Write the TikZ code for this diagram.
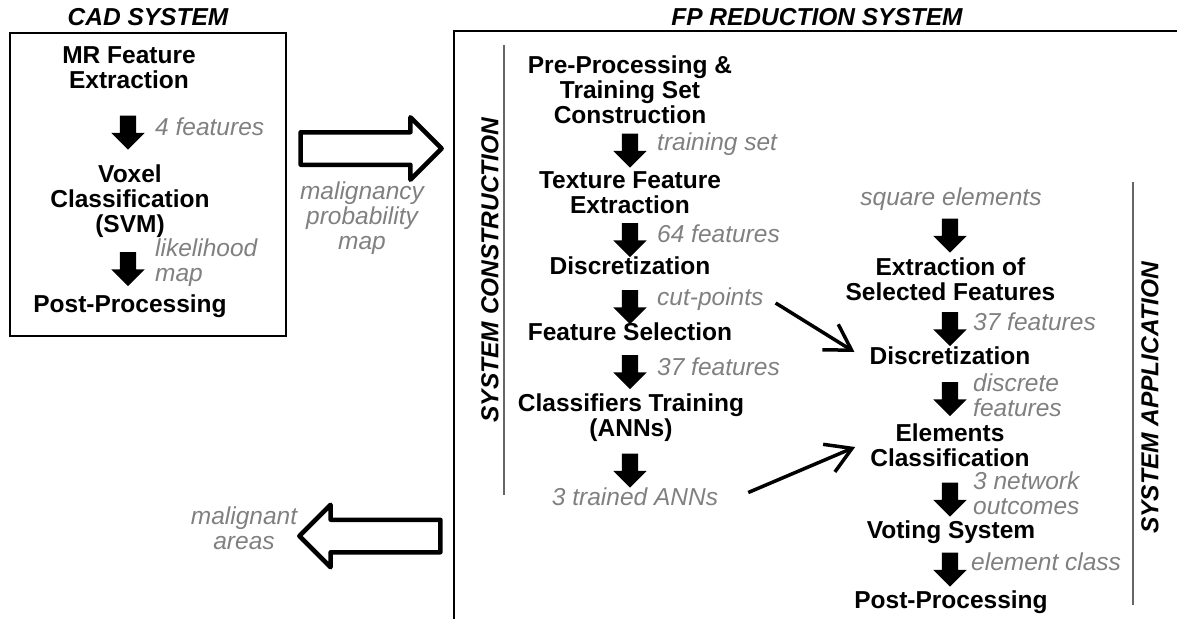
\documentclass[tikz,border=0pt]{standalone}
\usepackage{fontspec}
\setmainfont{Liberation Sans}
\usetikzlibrary{shapes.arrows,arrows.meta}
\definecolor{lblgray}{gray}{0.5}

\begin{document}
\begin{tikzpicture}[x=1pt, y=-1pt,
  proc/.style={font=\bfseries\fontsize{24.5}{25}\selectfont, align=center, inner sep=0pt},
  lbl/.style={font=\itshape\fontsize{24.5}{25}\selectfont, text=lblgray, align=left, anchor=west, inner sep=0pt},
  ttl/.style={font=\bfseries\itshape\fontsize{24.5}{25}\selectfont, inner sep=0pt},
  flowarr/.style={single arrow, fill=black, rotate=-90, minimum height=34pt, inner xsep=0pt, inner ysep=8pt,
    single arrow head extend=8.5pt, single arrow head indent=0pt},
  bigarrow/.style={single arrow, draw, fill=white, line width=4.5pt, line join=round,
    minimum height=141pt, inner xsep=0pt, inner ysep=14pt, single arrow head extend=15pt},
  feed/.style={line width=3.5pt, -{Straight Barb[length=25pt,width=30pt]}},
  divider/.style={line width=2pt, black!60}]
  \useasboundingbox (0,0) rectangle (1177,619);

  \node [ttl] (cadttl) at (148,17) {CAD SYSTEM};
  \node [ttl] (fpttl) at (817,17) {FP REDUCTION SYSTEM};

  % CAD system
  \draw [line width=2pt] (10,33) rectangle (286,336);
  \node [proc] (mr) at (129,68) {MR Feature\\Extraction};
  \node [flowarr] (a1) at (128,128.5) {};
  \node [lbl] (l1) at (155,127) {4 features};
  \node [proc] (voxel) at (130,201) {Voxel\\Classification\\(SVM)};
  \node [flowarr] (a2) at (128,265) {};
  \node [lbl] (l2) at (155,263) {likelihood\\map};
  \node [proc] (post1) at (130,306) {Post-Processing};

  % hand over to FP reduction and back (center sits 7pt towards the tip)
  \node [bigarrow] (tofp) at (363,148.5) {};
  \node [lbl, anchor=center, align=center] (prob) at (362,218) {malignancy\\probability\\map};
  \node [bigarrow, shape border rotate=180] (back) at (378,536) {};
  \node [lbl, anchor=center, align=center] (areas) at (244,528) {malignant\\areas};

  % FP reduction frame, runs off the page
  \draw [line width=2.5pt] (454,619) |- (1177,31);
  \draw [divider] (504,45) -- (504,495);
  \node [ttl, rotate=90] (constr) at (490,270) {SYSTEM CONSTRUCTION};
  \draw [divider] (1133,182) -- (1133,605);
  \node [ttl, rotate=90] (appl) at (1150,398) {SYSTEM APPLICATION};

  % construction
  \node [proc] (pre) at (630,90) {Pre-Processing \&\\Training Set\\Construction};
  \node [flowarr] (b1) at (630,146.5) {};
  \node [lbl] (m1) at (657,144) {training set};
  \node [proc] (tex) at (630,193) {Texture Feature\\Extraction};
  \node [flowarr] (b2) at (630,236) {};
  \node [lbl] (m2) at (657,233.5) {64 features};
  \node [proc] (disc1) at (630,266) {Discretization};
  \node [flowarr] (b3) at (630,303) {};
  \node [lbl] (cutpts) at (657,299) {cut-points};
  \node [proc] (fsel) at (630,332) {Feature Selection};
  \node [flowarr] (b4) at (630,368) {};
  \node [lbl] (m4) at (657,366.5) {37 features};
  \node [proc] (train) at (631,418) {Classifiers Training\\(ANNs)};
  \node [flowarr] (b5) at (630,466.5) {};
  \node [lbl, anchor=center] (anns) at (635,496.5) {3 trained ANNs};

  % application
  \node [lbl, anchor=center] (sq) at (951,199) {square elements};
  \node [flowarr] (c1) at (950,231.5) {};
  \node [proc] (extr) at (950.5,279) {Extraction of\\Selected Features};
  \node [flowarr] (c2) at (950,325) {};
  \node [lbl] (n2) at (973,321.4) {37 features};
  \node [proc] (disc2) at (950,356) {Discretization};
  \node [flowarr] (c3) at (950,395) {};
  \node [lbl] (n3) at (973,395) {discrete\\features};
  \node [proc] (elem) at (950,445) {Elements\\Classification};
  \node [flowarr] (c4) at (950,495.5) {};
  \node [lbl] (n4) at (973,493.5) {3 network\\outcomes};
  \node [proc] (vote) at (951,532) {Voting System};
  \node [flowarr] (c5) at (950,565.5) {};
  \node [lbl] (n5) at (971,562) {element class};
  \node [proc] (post2) at (951,602.5) {Post-Processing};

  \draw [feed] ([shift={(12,4)}]cutpts.east) -- ([shift={(-15,-4)}]disc2.west);
  \draw [feed] ([shift={(30,-4)}]anns.east) -- ([shift={(-15,2)}]elem.west);
\end{tikzpicture}
\end{document}
